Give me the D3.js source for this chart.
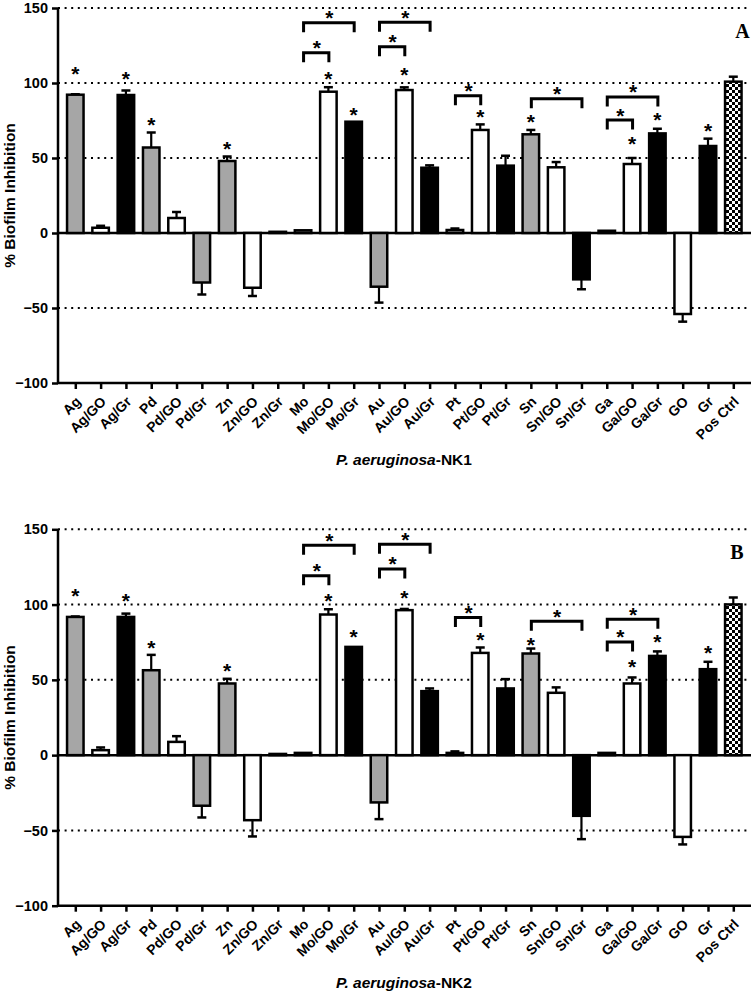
<!DOCTYPE html>
<html>
<head>
<meta charset="utf-8">
<script src="https://cdn.jsdelivr.net/npm/d3@7"></script>
<style>
  html, body { margin: 0; padding: 0; background: #fff; }
  svg { display: block; }
  text { font-family: "Liberation Sans", Arial, Helvetica, sans-serif; font-weight: bold; }
</style>
</head>
<body>
<svg id="chart" width="756" height="996"></svg>
<script>
// ---------------- DATA ----------------
const categories = ["Ag","Ag/GO","Ag/Gr","Pd","Pd/GO","Pd/Gr","Zn","Zn/GO","Zn/Gr","Mo","Mo/GO","Mo/Gr","Au","Au/GO","Au/Gr","Pt","Pt/GO","Pt/Gr","Sn","Sn/GO","Sn/Gr","Ga","Ga/GO","Ga/Gr","GO","Gr","Pos Ctrl"];
// bar group as drawn in the figure: metal (grey), GO (white), Gr (black), control (checker)
const barGroup = ["metal","GO","Gr","metal","GO","metal","metal","GO","Gr","metal","GO","Gr","metal","GO","Gr","metal","GO","Gr","metal","GO","Gr","metal","GO","Gr","GO","Gr","ctrl"];
const yTicks = [150, 100, 50, 0, -50, -100];
const gridValues = [150, 100, 50, -50];

// Panel A : P. aeruginosa-NK1
const valuesA = [92.2, 3.5, 92.0, 57.0, 10.0, -33.0, 48.0, -36.5, 0.8, 1.8, 94.2, 74.2, -35.8, 95.3, 43.5, 2.0, 68.7, 44.9, 65.8, 43.8, -30.9, 1.5, 46.0, 66.4, -54.0, 58.0, 100.9];
const errorsA = [0.3, 1.3, 3.0, 10.0, 4.0, 8.0, 3.0, 5.5, 0, 0, 3.0, 0, 10.6, 1.8, 1.6, 1.0, 3.7, 6.6, 2.9, 3.5, 6.6, 0, 4.0, 3.1, 5.1, 4.9, 3.3];
const starCatsA = ["Ag","Ag/Gr","Pd","Zn","Mo/GO","Mo/Gr","Au/GO","Pt/GO","Sn","Ga/GO","Ga/Gr","Gr"];
const starLevelsA = [108.7, 106.0, 75.3, 59.3, 106.0, 82.0, 108.2, 80.2, 76.9, 62.5, 78.2, 71.3];
const bracketFromA = ["Mo","Mo","Au","Au","Pt","Sn","Ga","Ga"];
const bracketToA = ["Mo/GO","Mo/Gr","Au/GO","Au/Gr","Pt/GO","Sn/Gr","Ga/GO","Ga/Gr"];
const bracketLevelsA = [120.2, 140.2, 124.2, 140.5, 91.5, 89.5, 75.3, 90.7];

// Panel B : P. aeruginosa-NK2
const valuesB = [91.8, 3.3, 91.8, 56.4, 8.8, -33.6, 47.6, -43.2, 0.8, 1.5, 93.4, 71.9, -31.4, 96.3, 42.5, 1.5, 67.9, 44.3, 67.5, 41.4, -40.3, 1.5, 47.6, 65.9, -54.3, 57.1, 100.1];
const errorsB = [0.3, 1.8, 2.2, 10.2, 3.8, 7.8, 3.1, 10.8, 0, 0, 3.5, 0, 11.1, 0.8, 1.8, 1.0, 3.6, 6.2, 3.3, 3.6, 15.5, 0, 4.0, 3.0, 5.0, 4.9, 4.6];
const starCatsB = ["Ag","Ag/Gr","Pd","Zn","Mo/GO","Mo/Gr","Au/GO","Pt/GO","Sn","Ga/GO","Ga/Gr","Gr"];
const starLevelsB = [108.4, 105.1, 74.2, 58.6, 105.1, 81.2, 107.4, 79.7, 76.4, 61.3, 78.2, 70.9];
const bracketFromB = ["Mo","Mo","Au","Au","Pt","Sn","Ga","Ga"];
const bracketToB = ["Mo/GO","Mo/Gr","Au/GO","Au/Gr","Pt/GO","Sn/Gr","Ga/GO","Ga/Gr"];
const bracketLevelsB = [119.1, 139.4, 123.7, 140.1, 91.4, 89.0, 75.2, 90.3];

// ---------------- DRAW ----------------
const svg = d3.select("#chart");
const defs = svg.append("defs");
const pat = defs.append("pattern").attr("id", "checker")
  .attr("patternUnits", "userSpaceOnUse").attr("width", 6).attr("height", 6);
pat.append("rect").attr("width", 6).attr("height", 6).attr("fill", "#fff");
pat.append("rect").attr("width", 3).attr("height", 3).attr("fill", "#000");
pat.append("rect").attr("x", 3).attr("y", 3).attr("width", 3).attr("height", 3).attr("fill", "#000");

const fillScale = d3.scaleOrdinal()
  .domain(["metal", "GO", "Gr", "ctrl"])
  .range(["#a6a6a6", "#ffffff", "#000000", "url(#checker)"]);

const x = d3.scalePoint().domain(categories).range([75.3, 733.3]);
const axisLeft = 58, axisRight = 751;

function drawPanel(cfg) {
  const y = d3.scaleLinear().domain([-100, 150]).range(cfg.yRange);
  const g = svg.append("g");

  // grid (dotted)
  g.selectAll(".grid").data(gridValues).join("line")
    .attr("x1", axisLeft).attr("x2", axisRight)
    .attr("y1", d => y(d)).attr("y2", d => y(d))
    .attr("stroke", "#000").attr("stroke-width", 2)
    .attr("stroke-dasharray", "2,4.6");

  // zero line
  g.append("line").attr("x1", axisLeft).attr("x2", axisRight)
    .attr("y1", y(0)).attr("y2", y(0))
    .attr("stroke", "#000").attr("stroke-width", 2.5);

  const data = categories.map((c, i) => ({ c, grp: barGroup[i], v: cfg.values[i], e: cfg.errors[i] }));

  // error bars
  const eb = g.selectAll(".err").data(data.filter(d => d.e > 0)).join("g");
  eb.append("line")
    .attr("x1", d => x(d.c)).attr("x2", d => x(d.c))
    .attr("y1", d => y(d.v)).attr("y2", d => y(d.v + Math.sign(d.v) * d.e))
    .attr("stroke", "#000").attr("stroke-width", 2.2);
  eb.append("line")
    .attr("x1", d => x(d.c) - 4.5).attr("x2", d => x(d.c) + 4.5)
    .attr("y1", d => y(d.v + Math.sign(d.v) * d.e)).attr("y2", d => y(d.v + Math.sign(d.v) * d.e))
    .attr("stroke", "#000").attr("stroke-width", 2.5);

  // bars
  const bw = 16.5;
  g.selectAll(".bar").data(data).join("rect")
    .attr("x", d => x(d.c) - bw / 2)
    .attr("width", bw)
    .attr("y", d => Math.min(y(d.v), y(0)))
    .attr("height", d => Math.abs(y(d.v) - y(0)))
    .attr("fill", d => fillScale(d.grp))
    .attr("stroke", "#000").attr("stroke-width", 2.5);

  // y axis
  const yAxis = d3.axisLeft(y).tickValues(yTicks).tickSize(6).tickPadding(4).tickFormat(d3.format("d"));
  const ya = g.append("g").attr("transform", `translate(${axisLeft},0)`).call(yAxis);
  ya.select(".domain").attr("stroke-width", 2.5).attr("d", `M-0,${y(150)}V${y(-100)}`);
  ya.selectAll(".tick line").attr("stroke-width", 2.5);
  ya.selectAll(".tick text").attr("font-size", 14.5).attr("font-weight", "bold")
    .attr("font-family", "'Liberation Sans', Arial, sans-serif").attr("fill", "#000");

  // x axis
  const xAxis = d3.axisBottom(x).tickSize(6).tickFormat("");
  const xa = g.append("g").attr("transform", `translate(0,${y(-100)})`).call(xAxis);
  xa.select(".domain").attr("stroke-width", 2.5).attr("d", `M${axisLeft},0H${axisRight}`);
  xa.selectAll(".tick line").attr("stroke-width", 2.5);
  g.selectAll(".xl").data(categories).join("text")
    .attr("transform", d => `translate(${x(d) + 3},${y(-100) + 16}) rotate(-45)`)
    .attr("text-anchor", "end").attr("dy", "0.35em")
    .attr("font-size", 14).text(d => d);

  // stars over bars
  g.selectAll(".star").data(cfg.starCats.map((c, i) => ({ c, l: cfg.starLevels[i] }))).join("text")
    .attr("x", d => x(d.c)).attr("y", d => y(d.l) + 11.5)
    .attr("text-anchor", "middle").attr("font-size", 21).text("*");

  // brackets
  const br = cfg.bracketFrom.map((f, i) => ({ f, t: cfg.bracketTo[i], l: cfg.bracketLevels[i] }));
  g.selectAll(".br").data(br).join("path")
    .attr("d", d => `M${x(d.f) + 0.5},${y(d.l) + 9.5}V${y(d.l)}H${x(d.t) + 0.5}V${y(d.l) + 9.5}`)
    .attr("fill", "none").attr("stroke", "#000").attr("stroke-width", 3);
  g.selectAll(".brs").data(br).join("text")
    .attr("x", d => (x(d.f) + x(d.t)) / 2 + 1).attr("y", d => y(d.l) - 9 + 11.5)
    .attr("text-anchor", "middle").attr("font-size", 21).text("*");

  // y title
  g.append("text")
    .attr("transform", `translate(15,${(cfg.yRange[0] + cfg.yRange[1]) / 2}) rotate(-90)`)
    .attr("text-anchor", "middle").attr("font-size", 15.5).text("% Biofilm Inhibition");

  // x title
  const xt = g.append("text").attr("x", 404).attr("y", y(-100) + 82)
    .attr("text-anchor", "middle").attr("font-size", 15.5);
  xt.append("tspan").attr("font-style", "italic").text("P. aeruginosa");
  xt.append("tspan").text("-" + cfg.strain);

  // panel letter
  g.append("text").attr("x", cfg.letterX).attr("y", y(cfg.letterLevel))
    .attr("text-anchor", "middle")
    .style("font-family", "'Liberation Serif', 'Times New Roman', serif")
    .attr("font-size", 20).text(cfg.letter);
}

drawPanel({
  yRange: [383, 8],
  values: valuesA, errors: errorsA,
  starCats: starCatsA, starLevels: starLevelsA,
  bracketFrom: bracketFromA, bracketTo: bracketToA, bracketLevels: bracketLevelsA,
  strain: "NK1", letter: "A", letterX: 742.5, letterLevel: 130
});
drawPanel({
  yRange: [905.7, 529.3],
  values: valuesB, errors: errorsB,
  starCats: starCatsB, starLevels: starLevelsB,
  bracketFrom: bracketFromB, bracketTo: bracketToB, bracketLevels: bracketLevelsB,
  strain: "NK2", letter: "B", letterX: 737, letterLevel: 130.5
});
</script>
</body>
</html>
